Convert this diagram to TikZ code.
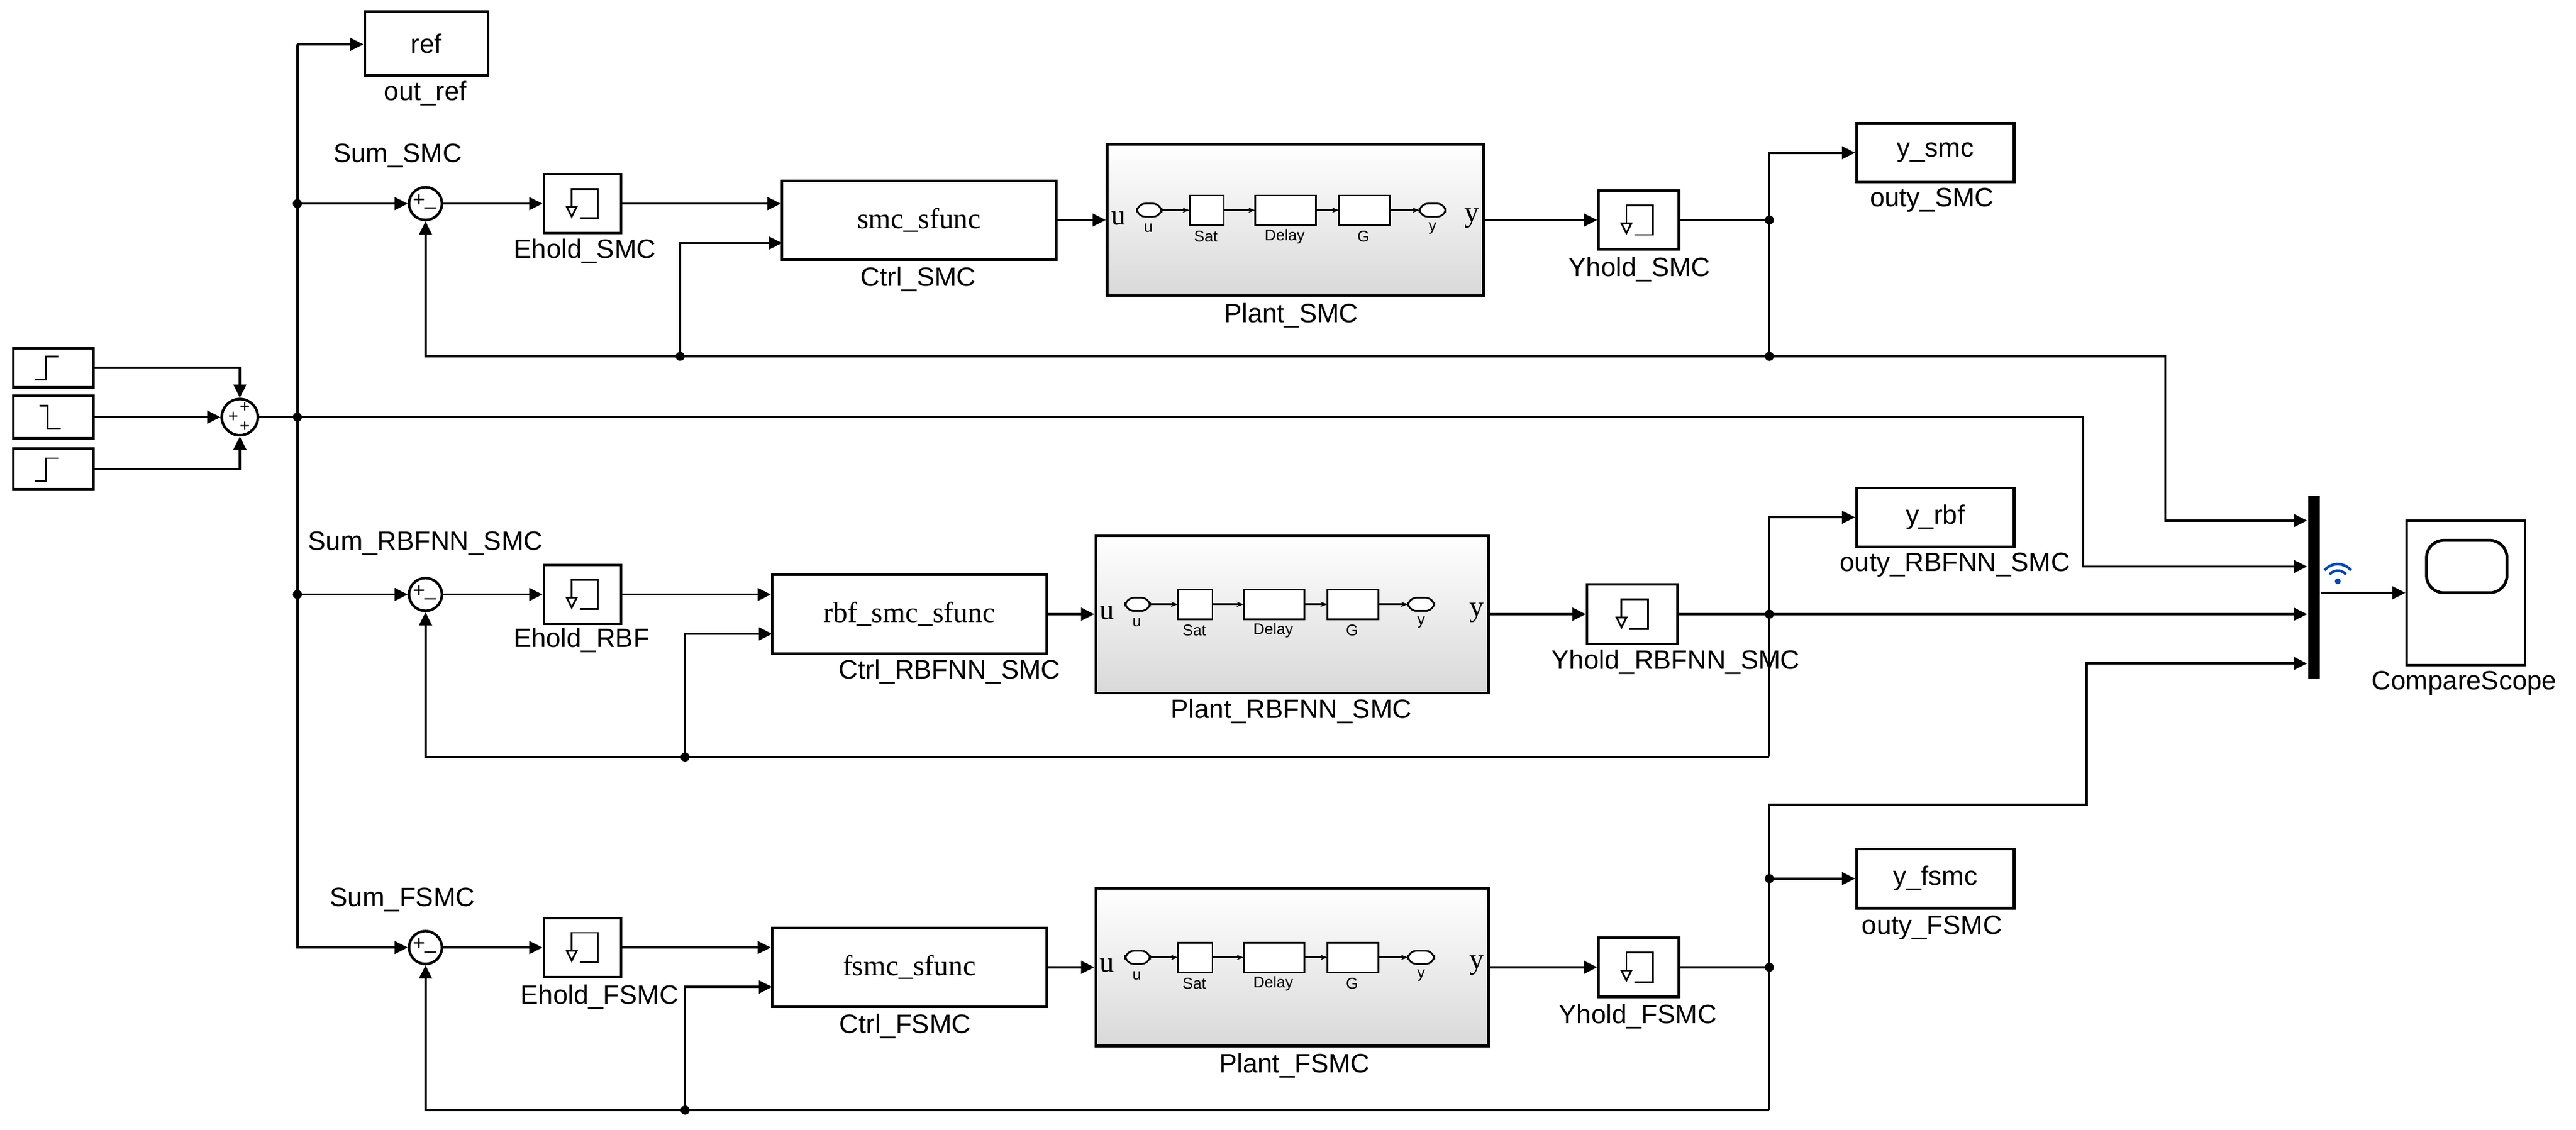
\documentclass[tikz,border=0pt]{standalone}
\usepackage{fontspec}
\setmainfont{Liberation Sans}
\newfontfamily\serifx{Liberation Serif}
\usetikzlibrary{arrows.meta,fit,calc}
\newcommand\lf{\fontsize{4.6}{5}\selectfont}
\newcommand\sfx{\fontsize{5}{5}\selectfont\serifx}
\newcommand\tf{\fontsize{2.7}{3}\selectfont}
\begin{document}
\begin{tikzpicture}[x=0.01cm,y=-0.01cm,
  blk/.style={draw,line width=0.45pt,fill=white,inner sep=0pt},
  lbl/.style={font=\lf,inner sep=0pt},
  arr/.style={-{Triangle[length=2.3pt,width=2.2pt]},line width=0.4pt},
  ln/.style={line width=0.4pt},
  dot/.style={circle,fill,inner sep=0pt,minimum size=0.055cm},
  sumc/.style={draw,circle,line width=0.45pt,fill=white,minimum size=0.2cm,inner sep=0pt},
  plant/.style={draw,line width=0.5pt,top color=white,bottom color=black!15,inner sep=0pt},
  ic/.style={line width=0.3pt}]
\useasboundingbox (0,0) rectangle (1568,688);
% macros
\newcommand\holdicon[2]{\draw[ic] (#1-2,#2+9)--(#1+9,#2+9)--(#1+9,#2-9)--(#1-7,#2-9)--(#1-7,#2+3);
  \draw[ic,fill=white] (#1-10,#2+2)--(#1-4,#2+2)--(#1-7,#2+8)--cycle;}
\newcommand\plantin[3]{% L, C, R
  \draw[ic,fill=white,rounded corners=1.5] (#1+18,#2-10) rectangle (#1+33,#2-2);
  \node[font=\tf] at (#1+25,#2+5) {u};
  \draw[ic,fill=white] (#1+50,#2-15) rectangle (#1+71,#2+3);
  \node[font=\tf] at (#1+60,#2+10) {Sat};
  \draw[ic,fill=white] (#1+90,#2-15) rectangle (#1+127,#2+3);
  \node[font=\tf] at (#1+108,#2+10) {Delay};
  \draw[ic,fill=white] (#1+141,#2-15) rectangle (#1+172,#2+3);
  \node[font=\tf] at (#1+156,#2+10) {G};
  \draw[ic,fill=white,rounded corners=1.5] (#1+190,#2-10) rectangle (#1+206,#2-2);
  \node[font=\tf] at (#1+198,#2+5) {y};
  \draw[ic,-{Stealth[length=1.2pt]}] (#1+33,#2-6)--(#1+50,#2-6);
  \draw[ic,-{Stealth[length=1.2pt]}] (#1+71,#2-6)--(#1+90,#2-6);
  \draw[ic,-{Stealth[length=1.2pt]}] (#1+127,#2-6)--(#1+141,#2-6);
  \draw[ic,-{Stealth[length=1.2pt]}] (#1+172,#2-6)--(#1+190,#2-6);
  \node[font=\sfx] at (#1+7,#2-1) {u};
  \node[font=\sfx] at (#3-7,#2-1) {y};}
% steps
\node[blk,fit={(8,212)(57,236)}] (st1) {};
\node[blk,fit={(8,241)(57,267)}] (st2) {};
\node[blk,fit={(8,273)(57,298)}] (st3) {};
\draw[ic] (21,231)--(28,231)--(28,217)--(36,217);
\draw[ic] (24,247)--(29,247)--(29,261)--(37,261);
\draw[ic] (21,293)--(28,293)--(28,279)--(36,279);
\node[sumc,minimum size=0.22cm] (s0) at (146,254) {};
\node[font=\fontsize{3}{3}\selectfont,inner sep=0pt] at (149,248) {+};
\node[font=\fontsize{3}{3}\selectfont,inner sep=0pt] at (142,254) {+};
\node[font=\fontsize{3}{3}\selectfont,inner sep=0pt] at (149,260) {+};
\draw[arr] (st1.east) -| (s0.north);
\draw[arr] (st2.east) -- (s0.west);
\draw[arr] (st3.east) -| (s0.south);
\coordinate (j0) at (181,254);
\coordinate (bt) at (181,27);
\coordinate (jS) at (181,124);
\coordinate (jR) at (181,362);
\draw[ln] (s0.east) -- (j0);
\node[dot] at (j0) {}; \node[dot] at (jS) {}; \node[dot] at (jR) {};
% ref
\node[blk,fit={(222,7)(297,46)}] (ref) {};
\node[lbl] at (ref.center) {ref};
\node[lbl] at (259,57) {out\_ref};
% mux & scope
\node[fill=black,inner sep=0pt,fit={(1405,302)(1412,413)}] (mux) {};
\node[blk,fit={(1465,317)(1537,405)}] (sc) {};
\draw[line width=0.5pt,rounded corners=3] (1477,329) rectangle (1526,361);
\node[lbl] at (1500,416) {CompareScope};
\draw[arr] (mux.east |- sc.west) -- (sc.west);
\begin{scope}[draw=blue!60!cyan!70!black,line width=0.45pt]
\fill[blue!60!cyan!70!black] (1423,354) circle (1.8);
\draw ($(1423,354)+(-140:6.5)$) arc (-140:-40:6.5);
\draw ($(1423,354)+(-140:10.5)$) arc (-140:-40:10.5);
\end{scope}
% bus
\draw[arr] (bt) -- (ref.west |- bt);
\node[sumc] (sS) at (259,124) {};
\node[sumc] (sR) at (259,362) {};
\node[sumc] (sF) at (259,577) {};
\foreach \n in {sS,sR,sF}{
  \node[font=\fontsize{3.6}{3}\selectfont] at ($(\n)+(-4,-2)$) {+};
  \node[font=\fontsize{3.6}{3}\selectfont] at ($(\n)+(3,2)$) {\_};}
\draw[arr] (bt) |- (sF.west);
\draw[arr] (jS) -- (sS.west);
\draw[arr] (jR) -- (sR.west);
\coordinate (c2) at (1268,345);
\draw[arr] (j0) -| (c2) -- (mux.west |- c2);
\node[lbl] at (242,95) {Sum\_SMC};
\node[lbl] at (259,331) {Sum\_RBFNN\_SMC};
\node[lbl] at (245,548) {Sum\_FSMC};
% ===== SMC row
\node[blk,fit={(331,106)(378,142)}] (eS) {}; \holdicon{355}{124}
\node[lbl] at (356,153) {Ehold\_SMC};
\node[blk,fit={(476,110)(643,158)}] (cS) {};
\node[font=\sfx] at (cS.center) {smc\_sfunc};
\node[lbl] at (559,170) {Ctrl\_SMC};
\node[plant,fit={(674,88)(903,180)}] (pS) {}; \plantin{674}{134}{903}
\node[lbl] at (786,192) {Plant\_SMC};
\node[blk,fit={(973,116)(1022,152)}] (hS) {}; \holdicon{997}{134}
\node[lbl] at (998,164) {Yhold\_SMC};
\node[blk,fit={(1130,75)(1226,111)}] (oS) {};
\node[lbl] at (oS.center) {y\_smc};
\node[lbl] at (1176,122) {outy\_SMC};
\coordinate (yS) at (1077,134); \coordinate (fS) at (1077,217);
\coordinate (fS2) at (414,217); \coordinate (iS) at (476,148);
\coordinate (mS) at (1318,317);
\draw[arr] (sS.east) -- (eS.west);
\draw[arr] (eS.east) -- (eS.east -| cS.west);
\draw[arr] (cS.east) -- (pS.west);
\draw[arr] (pS.east) -- (hS.west);
\draw[ln] (hS.east) -- (yS) -- (fS);
\draw[arr] (yS) |- (oS.west);
\draw[arr] (fS) -| (sS.south);
\draw[arr] (fS2) |- (iS);
\draw[arr] (fS) -| (mS) -- (mux.west |- mS);
\node[dot] at (yS) {}; \node[dot] at (fS) {}; \node[dot] at (fS2) {};
% ===== RBF row
\node[blk,fit={(331,344)(378,380)}] (eR) {}; \holdicon{355}{362}
\node[lbl] at (354,390) {Ehold\_RBF};
\node[blk,fit={(470,350)(637,398)}] (cR) {};
\node[font=\sfx] at (cR.center) {rbf\_smc\_sfunc};
\node[lbl] at (578,409) {Ctrl\_RBFNN\_SMC};
\node[plant,fit={(667,326)(906,422)}] (pR) {}; \plantin{667}{374}{906}
\node[lbl] at (786,433) {Plant\_RBFNN\_SMC};
\node[blk,fit={(966,356)(1021,392)}] (hR) {}; \holdicon{994}{374}
\node[lbl] at (1020,403) {Yhold\_RBFNN\_SMC};
\node[blk,fit={(1130,297)(1226,333)}] (oR) {};
\node[lbl] at (oR.center) {y\_rbf};
\node[lbl] at (1190,344) {outy\_RBFNN\_SMC};
\coordinate (yR) at (1077,374); \coordinate (fR) at (1077,461);
\coordinate (fR2) at (417,461); \coordinate (iR) at (470,386);
\draw[arr] (sR.east) -- (eR.west);
\draw[arr] (eR.east) -- (eR.east -| cR.west);
\draw[arr] (cR.east) -- (pR.west);
\draw[arr] (pR.east) -- (hR.west);
\draw[ln] (hR.east) -- (yR) -- (fR);
\draw[arr] (yR) |- (oR.west);
\draw[arr] (yR) -- (mux.west |- yR);
\draw[arr] (fR) -| (sR.south);
\draw[arr] (fR2) |- (iR);
\node[dot] at (yR) {}; \node[dot] at (fR2) {};
% ===== FSMC row
\node[blk,fit={(331,559)(378,595)}] (eF) {}; \holdicon{355}{577}
\node[lbl] at (365,607) {Ehold\_FSMC};
\node[blk,fit={(470,565)(637,613)}] (cF) {};
\node[font=\sfx] at (cF.center) {fsmc\_sfunc};
\node[lbl] at (551,625) {Ctrl\_FSMC};
\node[plant,fit={(667,541)(906,637)}] (pF) {}; \plantin{667}{589}{906}
\node[lbl] at (788,649) {Plant\_FSMC};
\node[blk,fit={(973,571)(1022,607)}] (hF) {}; \holdicon{997}{589}
\node[lbl] at (997,619) {Yhold\_FSMC};
\node[blk,fit={(1130,517)(1226,553)}] (oF) {};
\node[lbl] at (oF.center) {y\_fsmc};
\node[lbl] at (1176,565) {outy\_FSMC};
\coordinate (yF) at (1077,589); \coordinate (fF) at (1077,676);
\coordinate (fF2) at (417,676); \coordinate (iF) at (470,601);
\coordinate (jF) at (1077,535); \coordinate (tF) at (1077,490);
\coordinate (mF) at (1270,404);
\draw[arr] (sF.east) -- (eF.west);
\draw[arr] (eF.east) -- (eF.east -| cF.west);
\draw[arr] (cF.east) -- (pF.west);
\draw[arr] (pF.east) -- (hF.west);
\draw[ln] (hF.east) -- (yF) -- (fF);
\draw[arr] (jF) -- (oF.west);
\draw[arr] (yF) -- (tF) -| (mF) -- (mux.west |- mF);
\draw[arr] (fF) -| (sF.south);
\draw[arr] (fF2) |- (iF);
\node[dot] at (yF) {}; \node[dot] at (jF) {}; \node[dot] at (fF2) {};
\end{tikzpicture}
\end{document}
